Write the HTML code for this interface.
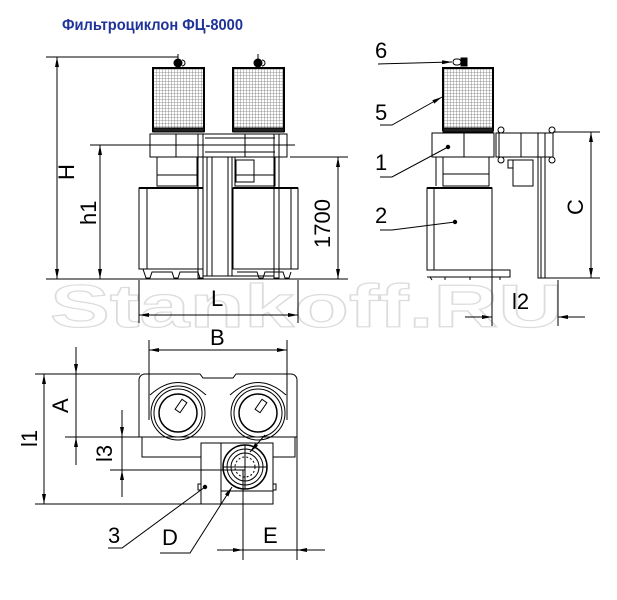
<!DOCTYPE html>
<html><head><meta charset="utf-8"><style>
html,body{margin:0;padding:0;background:#fff;}
svg{display:block;}
text{font-family:"Liberation Sans",sans-serif;}
</style></head><body>
<svg width="617" height="600" viewBox="0 0 617 600" xmlns="http://www.w3.org/2000/svg">
<defs>
<pattern id="mesh" width="3" height="3" patternUnits="userSpaceOnUse">
<rect width="3" height="3" fill="#fff"/>
<path d="M0 0H3M0 0V3" stroke="#777" stroke-width="0.8"/>
</pattern>
<marker id="ar" viewBox="0 0 10 4" refX="10" refY="2" markerWidth="10" markerHeight="4" orient="auto-start-reverse" markerUnits="userSpaceOnUse">
<path d="M0 0L10 2L0 4z" fill="#000"/>
</marker>
</defs>

<text x="50" y="327" font-size="60" font-weight="bold" fill="#fff" stroke="#dcdcdc" stroke-width="1.2" textLength="513" lengthAdjust="spacingAndGlyphs">Stankoff.RU</text>

<text x="62" y="30" font-size="16" font-weight="bold" fill="#1f3399" textLength="181" lengthAdjust="spacingAndGlyphs">Фильтроциклон ФЦ-8000</text>

<g fill="none" stroke="#000" stroke-width="1">
<line x1="46" y1="279" x2="348" y2="279"/>
<line x1="46" y1="57" x2="178" y2="57"/>
<line x1="90" y1="145" x2="295" y2="145"/>
<line x1="290" y1="157" x2="348" y2="157"/>
<line x1="57" y1="57" x2="57" y2="279" marker-start="url(#ar)" marker-end="url(#ar)"/>
<line x1="100" y1="145" x2="100" y2="279" marker-start="url(#ar)" marker-end="url(#ar)"/>
<line x1="338" y1="157" x2="338" y2="279" marker-start="url(#ar)" marker-end="url(#ar)"/>
<line x1="139" y1="280" x2="139" y2="323"/>
<line x1="298" y1="280" x2="298" y2="323"/>
<line x1="139" y1="315" x2="298" y2="315" marker-start="url(#ar)" marker-end="url(#ar)"/>

<rect x="153" y="68" width="51" height="63" fill="url(#mesh)" stroke-width="2"/>
<rect x="233" y="68" width="51" height="63" fill="url(#mesh)" stroke-width="2"/>
<rect x="153" y="128" width="51" height="4" fill="#222"/>
<rect x="233" y="128" width="51" height="4" fill="#222"/>
<circle cx="178" cy="63" r="4" fill="#000"/><line x1="178" y1="54" x2="178" y2="59"/>
<path d="M182 60 a3 3 0 1 1 0 6"/>
<circle cx="258" cy="63" r="4" fill="#000"/><line x1="258" y1="54" x2="258" y2="59"/>
<path d="M262 60 a3 3 0 1 1 0 6"/>
<rect x="150" y="134" width="137" height="23"/>
<line x1="176" y1="134" x2="176" y2="157"/>
<line x1="245" y1="134" x2="245" y2="157"/>
<line x1="205" y1="138" x2="275" y2="138"/>
<line x1="205" y1="152" x2="275" y2="152"/>
<line x1="200" y1="145" x2="295" y2="145" stroke-dasharray="14 4 3 4"/>
<rect x="157" y="157" width="40" height="29"/>
<line x1="157" y1="175" x2="197" y2="175"/>
<rect x="235" y="157" width="40" height="29"/>
<line x1="235" y1="175" x2="275" y2="175"/>
<rect x="236" y="160" width="18" height="22"/>
<rect x="139" y="188" width="64" height="81"/>
<line x1="147" y1="188" x2="147" y2="269"/>
<rect x="233" y="188" width="65" height="81"/>
<line x1="291" y1="188" x2="291" y2="269"/>
<line x1="139" y1="188" x2="203" y2="188" stroke-width="2"/>
<line x1="233" y1="188" x2="298" y2="188" stroke-width="2"/>
<rect x="198" y="134" width="5" height="144"/>
<rect x="274" y="134" width="5" height="144"/>
<line x1="207" y1="157" x2="207" y2="276"/>
<line x1="212" y1="157" x2="212" y2="276"/>
<line x1="228" y1="157" x2="228" y2="276"/>
<line x1="232" y1="157" x2="232" y2="276"/>
<line x1="203" y1="276" x2="274" y2="276"/>
<path d="M141 269 H203 M143 269 l3 9 h4 l2-6 h20 l2 6 h4 l2-6 h18 l2 6"/>
<path d="M235 269 H297 M237 272 h20 l2 6 h4 l2-6 h18 l2 6 h4 l2-6"/>

<rect x="443" y="68" width="50" height="62" fill="url(#mesh)" stroke-width="2"/>
<rect x="443" y="128" width="50" height="4" fill="#222"/>
<rect x="453" y="59" width="8" height="6" rx="3"/>
<rect x="461" y="58" width="6" height="8" fill="#000"/>
<rect x="432" y="133" width="62" height="24"/>
<line x1="464" y1="133" x2="464" y2="157"/>
<rect x="443" y="157" width="46" height="29"/>
<line x1="443" y1="174" x2="489" y2="174"/>
<line x1="436" y1="157" x2="436" y2="186"/>
<rect x="427" y="188" width="65" height="82"/>
<line x1="434" y1="188" x2="434" y2="270"/>
<line x1="427" y1="188" x2="492" y2="188" stroke-width="2"/>
<path d="M427 270 H510 V277 H427 M430 277 l2 3 M445 277 v3 M470 277 v3 M500 277 v3"/>
<rect x="496" y="133" width="57" height="24"/>
<line x1="521" y1="133" x2="521" y2="157"/>
<line x1="499" y1="133" x2="499" y2="157"/>
<circle cx="501" cy="130" r="3"/><circle cx="501" cy="160" r="3"/>
<circle cx="552" cy="130" r="3"/><circle cx="552" cy="160" r="3"/>
<rect x="513" y="160" width="20" height="26"/>
<rect x="508" y="160" width="5" height="8"/>
<rect x="538" y="133" width="7" height="145"/>
<line x1="541" y1="157" x2="541" y2="278"/>
<line x1="553" y1="132" x2="600" y2="132"/>
<line x1="545" y1="278" x2="600" y2="278"/>
<line x1="591" y1="132" x2="591" y2="278" marker-start="url(#ar)" marker-end="url(#ar)"/>
<line x1="492" y1="255" x2="492" y2="326"/>
<line x1="558" y1="280" x2="558" y2="326"/>
<line x1="465" y1="317" x2="492" y2="317" marker-end="url(#ar)"/>
<line x1="585" y1="317" x2="558" y2="317" marker-end="url(#ar)"/>
<line x1="378" y1="64" x2="452" y2="62" marker-end="url(#ar)"/>
<polyline points="380,125 392,125 442,97" marker-end="url(#ar)"/>
<polyline points="380,177 392,177 448,147"/>
<polyline points="380,230 392,230 455,222"/>
</g>
<circle cx="448" cy="147" r="2.2"/>
<circle cx="455" cy="222" r="2.2"/>

<g fill="none" stroke="#000" stroke-width="1">
<line x1="149" y1="340" x2="149" y2="420"/>
<line x1="287" y1="340" x2="287" y2="420"/>
<line x1="149" y1="350" x2="287" y2="350" marker-start="url(#ar)" marker-end="url(#ar)"/>
<path d="M139 380 a6 6 0 0 1 6-6 H200 l3 4 H233 l3-4 H291 a6 6 0 0 1 6 6 V437 H139 Z"/>
<rect x="142" y="437" width="153" height="20"/>
<circle cx="178" cy="413" r="27"/><circle cx="178" cy="413" r="24"/>
<circle cx="178" cy="413" r="19" stroke-width="1.5"/>
<circle cx="258" cy="413" r="27"/><circle cx="258" cy="413" r="24"/>
<circle cx="258" cy="413" r="19" stroke-width="1.5"/>
<path d="M150 395 Q178 370 206 395" />
<path d="M230 395 Q258 370 286 395" />
<rect x="178" y="400" width="6" height="12" transform="rotate(35 181 406)"/>
<rect x="258" y="400" width="6" height="12" transform="rotate(35 261 406)"/>
<rect x="201" y="443" width="72" height="61" fill="#fff"/>
<line x1="221" y1="443" x2="221" y2="504"/>
<line x1="221" y1="491" x2="273" y2="491"/>
<circle cx="245" cy="467" r="22" stroke-width="1.5"/>
<circle cx="245" cy="467" r="18"/>
<circle cx="245" cy="467" r="14"/>
<circle cx="245" cy="467" r="10" stroke-dasharray="2 2"/>
<path d="M223 467 H267 M245 445 V489"/>
<rect x="198" y="484" width="3" height="6"/>
<rect x="273" y="484" width="3" height="6"/>
<line x1="35" y1="374" x2="140" y2="374"/>
<line x1="65" y1="437" x2="142" y2="437"/>
<line x1="35" y1="504" x2="201" y2="504"/>
<line x1="110" y1="470" x2="245" y2="470"/>
<line x1="44" y1="374" x2="44" y2="504" marker-start="url(#ar)" marker-end="url(#ar)"/>
<line x1="76" y1="347" x2="76" y2="374" marker-end="url(#ar)"/>
<line x1="76" y1="465" x2="76" y2="437" marker-end="url(#ar)"/>
<line x1="76" y1="374" x2="76" y2="437"/>
<line x1="122" y1="410" x2="122" y2="437" marker-end="url(#ar)"/>
<line x1="122" y1="497" x2="122" y2="470" marker-end="url(#ar)"/>
<line x1="122" y1="437" x2="122" y2="470"/>
<line x1="243" y1="470" x2="243" y2="560"/>
<line x1="297" y1="437" x2="297" y2="560"/>
<line x1="217" y1="550" x2="243" y2="550" marker-end="url(#ar)"/>
<line x1="325" y1="550" x2="297" y2="550" marker-end="url(#ar)"/>
<line x1="243" y1="550" x2="297" y2="550"/>
<polyline points="108,548 122,548 205,487"/>
<polyline points="160,553 190,553 232,487" marker-end="url(#ar)"/>
<line x1="265" y1="435" x2="250" y2="452" marker-end="url(#ar)"/>
</g>
<circle cx="205" cy="487" r="2.2"/>

<g font-size="22" fill="#000">
<text x="74" y="180" transform="rotate(-90 74 180)">H</text>
<text x="96" y="225" transform="rotate(-90 96 225)">h1</text>
<text x="330" y="248" transform="rotate(-90 330 248)">1700</text>
<text x="211" y="306">L</text>
<text x="210" y="345">B</text>
<text x="375" y="58">6</text>
<text x="375" y="120">5</text>
<text x="375" y="170">1</text>
<text x="375" y="223">2</text>
<text x="583" y="215" transform="rotate(-90 583 215)">C</text>
<text x="512" y="309">l2</text>
<text x="68" y="413" transform="rotate(-90 68 413)">A</text>
<text x="37" y="447" transform="rotate(-90 37 447)">l1</text>
<text x="112" y="462" transform="rotate(-90 112 462)">l3</text>
<text x="108" y="543">3</text>
<text x="162" y="545">D</text>
<text x="263" y="543">E</text>
</g>
</svg>
</body></html>
